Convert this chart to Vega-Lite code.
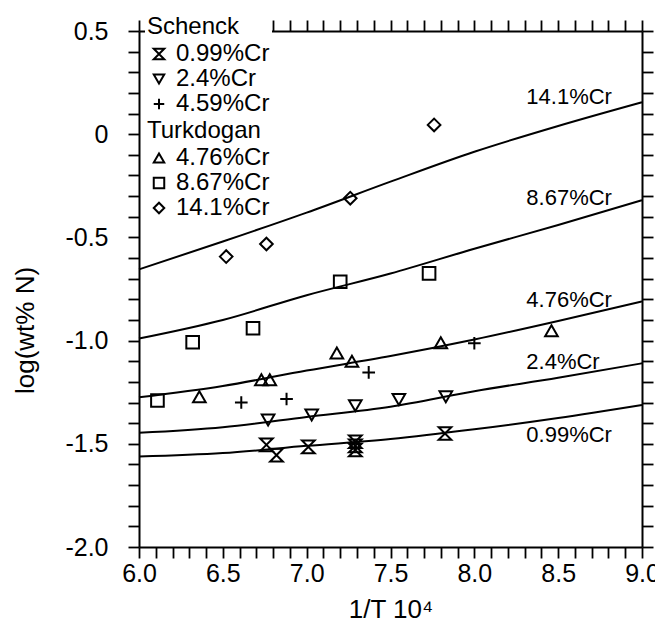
{
  "$schema": "https://vega.github.io/schema/vega-lite/v6.json",
  "width": 503,
  "height": 516,
  "autosize": {"type": "none"},
  "padding": {"left": 139, "top": 31, "right": 13, "bottom": 77},
  "background": "white",
  "config": {
    "view": {"stroke": null},
    "font": "Liberation Sans",
    "axis": {
      "domainColor": "black",
      "domainWidth": 2,
      "tickColor": "black",
      "tickWidth": 1.8,
      "tickSize": 11,
      "labelColor": "black",
      "labelFontSize": 25,
      "labelFont": "Liberation Sans",
      "titleColor": "black",
      "titleFontSize": 26,
      "titleFont": "Liberation Sans",
      "titleFontWeight": "normal",
      "grid": false
    },
    "legend": {
      "titleFont": "Liberation Sans",
      "titleFontSize": 24,
      "titleFontWeight": "normal",
      "titleColor": "black",
      "labelFont": "Liberation Sans",
      "labelFontSize": 24,
      "labelColor": "black",
      "symbolStrokeColor": "black",
      "symbolStrokeWidth": 2,
      "symbolFillColor": "transparent",
      "symbolSize": 110,
      "rowPadding": 1,
      "titlePadding": 3,
      "labelOffset": 5,
      "padding": 2,
      "fillColor": "white"
    }
  },
  "datasets": {
    "curves": [
      {"series": "14.1", "x": 6.0, "y": -0.655},
      {"series": "14.1", "x": 6.5, "y": -0.52},
      {"series": "14.1", "x": 7.0, "y": -0.38},
      {"series": "14.1", "x": 7.5, "y": -0.23},
      {"series": "14.1", "x": 8.0, "y": -0.085},
      {"series": "14.1", "x": 8.5, "y": 0.04},
      {"series": "14.1", "x": 9.0, "y": 0.155},
      {"series": "8.67", "x": 6.0, "y": -0.99},
      {"series": "8.67", "x": 6.5, "y": -0.9},
      {"series": "8.67", "x": 7.0, "y": -0.78},
      {"series": "8.67", "x": 7.5, "y": -0.675},
      {"series": "8.67", "x": 8.0, "y": -0.555},
      {"series": "8.67", "x": 8.5, "y": -0.44},
      {"series": "8.67", "x": 9.0, "y": -0.32},
      {"series": "4.76", "x": 6.0, "y": -1.275},
      {"series": "4.76", "x": 6.5, "y": -1.22},
      {"series": "4.76", "x": 7.0, "y": -1.145},
      {"series": "4.76", "x": 7.5, "y": -1.075},
      {"series": "4.76", "x": 8.0, "y": -0.995},
      {"series": "4.76", "x": 8.5, "y": -0.905},
      {"series": "4.76", "x": 9.0, "y": -0.81},
      {"series": "2.4", "x": 6.0, "y": -1.447},
      {"series": "2.4", "x": 6.5, "y": -1.42},
      {"series": "2.4", "x": 7.0, "y": -1.37},
      {"series": "2.4", "x": 7.5, "y": -1.32},
      {"series": "2.4", "x": 8.0, "y": -1.245},
      {"series": "2.4", "x": 8.5, "y": -1.18},
      {"series": "2.4", "x": 9.0, "y": -1.11},
      {"series": "0.99", "x": 6.0, "y": -1.562},
      {"series": "0.99", "x": 6.5, "y": -1.545},
      {"series": "0.99", "x": 7.0, "y": -1.51},
      {"series": "0.99", "x": 7.5, "y": -1.477},
      {"series": "0.99", "x": 8.0, "y": -1.43},
      {"series": "0.99", "x": 8.5, "y": -1.375},
      {"series": "0.99", "x": 9.0, "y": -1.312}
    ],
    "points": [
      {"source": "Schenck", "label": "0.99%Cr", "x": 6.76, "y": -1.505},
      {"source": "Schenck", "label": "0.99%Cr", "x": 6.82, "y": -1.555},
      {"source": "Schenck", "label": "0.99%Cr", "x": 7.01, "y": -1.515},
      {"source": "Schenck", "label": "0.99%Cr", "x": 7.29, "y": -1.49},
      {"source": "Schenck", "label": "0.99%Cr", "x": 7.29, "y": -1.51},
      {"source": "Schenck", "label": "0.99%Cr", "x": 7.29, "y": -1.53},
      {"source": "Schenck", "label": "0.99%Cr", "x": 7.825, "y": -1.45},
      {"source": "Schenck", "label": "2.4%Cr", "x": 6.77, "y": -1.385},
      {"source": "Schenck", "label": "2.4%Cr", "x": 7.03, "y": -1.36},
      {"source": "Schenck", "label": "2.4%Cr", "x": 7.29, "y": -1.315},
      {"source": "Schenck", "label": "2.4%Cr", "x": 7.55, "y": -1.285},
      {"source": "Schenck", "label": "2.4%Cr", "x": 7.83, "y": -1.272},
      {"source": "Schenck", "label": "4.59%Cr", "x": 6.61, "y": -1.3},
      {"source": "Schenck", "label": "4.59%Cr", "x": 6.88, "y": -1.283},
      {"source": "Schenck", "label": "4.59%Cr", "x": 7.37, "y": -1.154},
      {"source": "Schenck", "label": "4.59%Cr", "x": 8.0, "y": -1.013},
      {"source": "Turkdogan", "label": "4.76%Cr", "x": 6.36, "y": -1.272},
      {"source": "Turkdogan", "label": "4.76%Cr", "x": 6.73, "y": -1.19},
      {"source": "Turkdogan", "label": "4.76%Cr", "x": 6.78, "y": -1.19},
      {"source": "Turkdogan", "label": "4.76%Cr", "x": 7.18, "y": -1.06},
      {"source": "Turkdogan", "label": "4.76%Cr", "x": 7.27, "y": -1.1},
      {"source": "Turkdogan", "label": "4.76%Cr", "x": 7.8, "y": -1.01},
      {"source": "Turkdogan", "label": "4.76%Cr", "x": 8.46, "y": -0.952},
      {"source": "Turkdogan", "label": "8.67%Cr", "x": 6.11, "y": -1.29},
      {"source": "Turkdogan", "label": "8.67%Cr", "x": 6.32, "y": -1.008},
      {"source": "Turkdogan", "label": "8.67%Cr", "x": 6.68, "y": -0.94},
      {"source": "Turkdogan", "label": "8.67%Cr", "x": 7.2, "y": -0.715},
      {"source": "Turkdogan", "label": "8.67%Cr", "x": 7.73, "y": -0.674},
      {"source": "Turkdogan", "label": "14.1%Cr", "x": 6.52, "y": -0.593},
      {"source": "Turkdogan", "label": "14.1%Cr", "x": 6.76, "y": -0.532},
      {"source": "Turkdogan", "label": "14.1%Cr", "x": 7.26, "y": -0.31},
      {"source": "Turkdogan", "label": "14.1%Cr", "x": 7.76, "y": 0.045}
    ],
    "labels": [
      {"text": "14.1%Cr", "x": 8.31, "y": 0.18},
      {"text": "8.67%Cr", "x": 8.31, "y": -0.31},
      {"text": "4.76%Cr", "x": 8.31, "y": -0.803},
      {"text": "2.4%Cr", "x": 8.31, "y": -1.102},
      {"text": "0.99%Cr", "x": 8.31, "y": -1.457}
    ]
  },
  "layer": [
    {
      "data": {"name": "curves"},
      "mark": {"type": "line", "color": "black", "strokeWidth": 2, "interpolate": "monotone"},
      "encoding": {
        "x": {
          "field": "x", "type": "quantitative",
          "scale": {"domain": [6, 9], "nice": false, "zero": false},
          "axis": {
            "orient": "bottom",
            "title": "1/T 10⁴",
            "titlePadding": 10,
            "labelPadding": 3,
            "values": [6.0, 6.1, 6.2, 6.3, 6.4, 6.5, 6.6, 6.7, 6.8, 6.9, 7.0, 7.1, 7.2, 7.3, 7.4, 7.5, 7.6, 7.7, 7.8, 7.9, 8.0, 8.1, 8.2, 8.3, 8.4, 8.5, 8.6, 8.7, 8.8, 8.9, 9.0],
            "labelExpr": "abs(datum.value*2 - round(datum.value*2)) < 0.01 ? format(datum.value, '.1f') : ''",
            "labelFlush": false,
            "labelOverlap": false
          }
        },
        "y": {
          "field": "y", "type": "quantitative",
          "scale": {"domain": [-2, 0.5], "nice": false, "zero": false},
          "axis": {
            "orient": "left",
            "title": "log(wt% N)",
            "titleAngle": 270,
            "titleX": -114,
            "titleY": 299,
            "titleAlign": "center",
            "titleBaseline": "middle",
            "labelPadding": 20,
            "values": [-2.0, -1.9, -1.8, -1.7, -1.6, -1.5, -1.4, -1.3, -1.2, -1.1, -1.0, -0.9, -0.8, -0.7, -0.6, -0.5, -0.4, -0.3, -0.2, -0.1, 0.0, 0.1, 0.2, 0.3, 0.4, 0.5],
            "labelExpr": "abs(datum.value*2 - round(datum.value*2)) < 0.01 ? (abs(datum.value) < 0.01 ? '0' : (datum.value < 0 ? '-' : '') + format(abs(datum.value), '.1f')) : ''",
            "labelFlush": false,
            "labelOverlap": false
          }
        },
        "detail": {"field": "series", "type": "nominal"}
      }
    },
    {
      "data": {"name": "points"},
      "transform": [{"filter": "datum.source === 'Schenck'"}],
      "mark": {"type": "point", "filled": false, "color": "black", "strokeWidth": 2, "size": 160, "opacity": 1},
      "encoding": {
        "x": {"field": "x", "type": "quantitative", "axis": null},
        "y": {"field": "y", "type": "quantitative", "axis": null},
        "shape": {
          "field": "label", "type": "nominal",
          "scale": {
            "domain": ["0.99%Cr", "2.4%Cr", "4.59%Cr"],
            "range": ["M-1,-1L1,-1L-1,1L1,1Z", "triangle-down", "M-1,0L1,0M0,-1L0,1"]
          },
          "legend": {"title": "Schenck", "orient": "none", "legendX": 6, "legendY": -18, "direction": "vertical"}
        }
      }
    },
    {
      "data": {"name": "points"},
      "transform": [{"filter": "datum.source === 'Turkdogan'"}],
      "mark": {"type": "point", "filled": false, "color": "black", "strokeWidth": 2, "size": 160, "opacity": 1},
      "encoding": {
        "x": {"field": "x", "type": "quantitative", "axis": null},
        "y": {"field": "y", "type": "quantitative", "axis": null},
        "shape": {
          "field": "label", "type": "nominal",
          "scale": {
            "domain": ["4.76%Cr", "8.67%Cr", "14.1%Cr"],
            "range": ["triangle-up", "square", "diamond"]
          },
          "legend": {"title": "Turkdogan", "orient": "none", "legendX": 6, "legendY": 86, "direction": "vertical"}
        }
      }
    },
    {
      "data": {"name": "labels"},
      "mark": {"type": "text", "align": "left", "baseline": "middle", "fontSize": 22, "font": "Liberation Sans", "color": "black"},
      "encoding": {
        "x": {
          "field": "x", "type": "quantitative",
          "axis": {
            "orient": "top", "labels": false, "title": null,
            "values": [6.0, 6.1, 6.2, 6.3, 6.4, 6.5, 6.6, 6.7, 6.8, 6.9, 7.0, 7.1, 7.2, 7.3, 7.4, 7.5, 7.6, 7.7, 7.8, 7.9, 8.0, 8.1, 8.2, 8.3, 8.4, 8.5, 8.6, 8.7, 8.8, 8.9, 9.0]
          }
        },
        "y": {
          "field": "y", "type": "quantitative",
          "axis": {
            "orient": "right", "labels": false, "title": null,
            "values": [-2.0, -1.9, -1.8, -1.7, -1.6, -1.5, -1.4, -1.3, -1.2, -1.1, -1.0, -0.9, -0.8, -0.7, -0.6, -0.5, -0.4, -0.3, -0.2, -0.1, 0.0, 0.1, 0.2, 0.3, 0.4, 0.5]
          }
        },
        "text": {"field": "text", "type": "nominal"}
      }
    }
  ],
  "resolve": {
    "scale": {"shape": "independent"},
    "legend": {"shape": "independent"},
    "axis": {"x": "independent", "y": "independent"}
  }
}
